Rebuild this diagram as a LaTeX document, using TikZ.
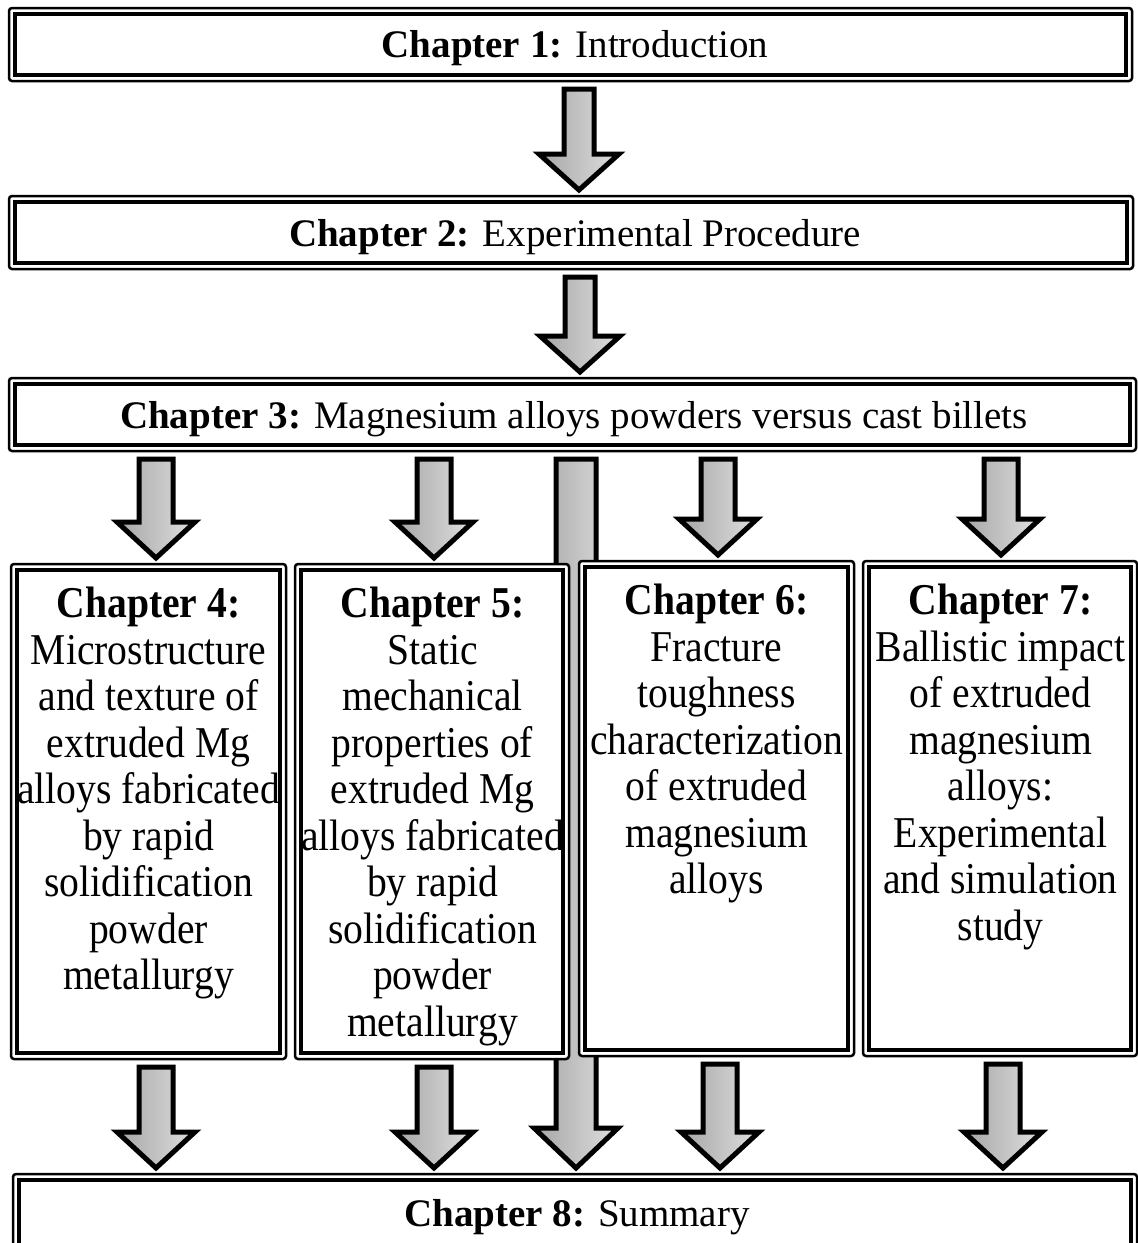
\documentclass[tikz,border=0pt]{standalone}
\usepackage{fontspec}
\setmainfont{Liberation Serif}
\newfontfamily\colfont{Liberation Serif}[FakeStretch=0.9]
\usetikzlibrary{calc}
% block arrow: #1 x, #2 from node, #3 to node, #4 shaft half width, #5 head half width, #6 head height
\newcommand\barrow[6]{%
  \draw[barr] let \p1=(#2.south), \p2=(#3.north) in
    ({(#1-#4)*1pt},{\y1-14pt}) -- ({(#1+#4)*1pt},{\y1-14pt})
    -- ({(#1+#4)*1pt},{\y2+12pt+#6*1pt}) -- ({(#1+#5)*1pt},{\y2+12pt+#6*1pt})
    -- ({#1*1pt},{\y2+12pt})
    -- ({(#1-#5)*1pt},{\y2+12pt+#6*1pt}) -- ({(#1-#4)*1pt},{\y2+12pt+#6*1pt}) -- cycle;}
\newcommand\frameit[1]{%
  \draw[outerframe] ($(#1.north west)+(-6,6)$) rectangle ($(#1.south east)+(6,-6)$);
  \draw[innerframe] (#1.north west) rectangle (#1.south east);}
\begin{document}
\begin{tikzpicture}[x=1pt,y=1pt,
  boxnode/.style={rectangle,inner sep=0pt,outer sep=0pt},
  innerframe/.style={line width=4pt,fill=white},
  outerframe/.style={line width=2.5pt,rounded corners=3pt,fill=white},
  barr/.style={line width=5pt,line join=miter,left color=gray!70,right color=gray!25},
  ttl/.style={anchor=base,inner sep=0pt,font=\fontsize{39}{46}\selectfont},
  coltext/.style={anchor=north,inner sep=0pt,align=center,font=\colfont\fontsize{44}{46.5}\selectfont}]
\useasboundingbox (0,0) rectangle (1138,-1243);
\clip (0,0) rectangle (1138,-1243);
% box nodes
\node[boxnode,minimum width=1111pt,minimum height=61pt] (c1) at (570.5,-44.5) {};
\node[boxnode,minimum width=1112pt,minimum height=61pt] (c2) at (571,-232.5) {};
\node[boxnode,minimum width=1115pt,minimum height=61pt] (c3) at (572.5,-414.5) {};
\node[boxnode,minimum width=263pt,minimum height=483pt] (c4) at (148.5,-811.5) {};
\node[boxnode,minimum width=262pt,minimum height=483pt] (c5) at (432,-811.5) {};
\node[boxnode,minimum width=263pt,minimum height=483pt] (c6) at (716.5,-808.5) {};
\node[boxnode,minimum width=262pt,minimum height=483pt] (c7) at (1000,-808.5) {};
\node[boxnode,minimum width=1112pt,minimum height=80pt] (c8) at (575,-1220) {};
% long arrow behind chapter 5 and 6 boxes
\barrow{576}{c3}{c8}{20}{42}{40}
% frames
\frameit{c1}
\frameit{c2}
\frameit{c3}
\frameit{c4}
\frameit{c5}
\frameit{c6}
\frameit{c7}
\frameit{c8}
% arrows
\barrow{579}{c1}{c2}{15}{40}{36}
\barrow{580}{c2}{c3}{15}{40}{36}
\barrow{156}{c3}{c4}{17}{39}{36}
\barrow{434}{c3}{c5}{17}{39}{36}
\barrow{718}{c3}{c6}{17}{39}{36}
\barrow{1001}{c3}{c7}{17}{39}{36}
\barrow{156}{c4}{c8}{17}{39}{36}
\barrow{434}{c5}{c8}{17}{39}{36}
\barrow{720}{c6}{c8}{17}{39}{36}
\barrow{1003}{c7}{c8}{17}{39}{36}
% texts
\node[ttl] (t1) at (575,-57) {\textbf{Chapter 1:} Introduction};
\node[ttl] (t2) at (575,-246) {\textbf{Chapter 2:} Experimental Procedure};
\node[ttl] (t3) at (574,-428) {\textbf{Chapter 3:} Magnesium alloys powders versus cast billets};
\node[ttl] (t8) at (577,-1226) {\textbf{Chapter 8:} Summary};
\node[coltext] (t4) at (148.5,-587) {\textbf{Chapter 4:}\\Microstructure\\and texture of\\extruded Mg\\alloys fabricated\\by rapid\\solidification\\powder\\metallurgy};
\node[coltext] (t5) at (432.5,-587) {\textbf{Chapter 5:}\\Static\\mechanical\\properties of\\extruded Mg\\alloys fabricated\\by rapid\\solidification\\powder\\metallurgy};
\node[coltext] (t6) at (716.5,-584) {\textbf{Chapter 6:}\\Fracture\\toughness\\characterization\\of extruded\\magnesium\\alloys};
\node[coltext] (t7) at (1000.5,-584) {\textbf{Chapter 7:}\\Ballistic impact\\of extruded\\magnesium\\alloys:\\Experimental\\and simulation\\study};
\end{tikzpicture}
\end{document}
